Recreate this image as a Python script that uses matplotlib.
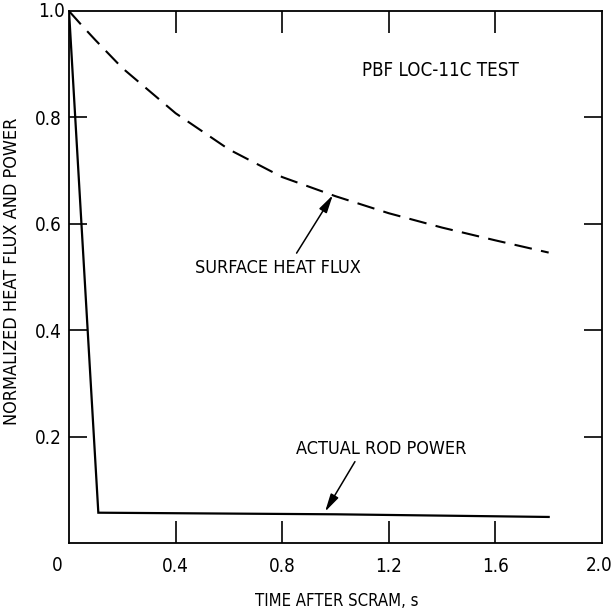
import matplotlib
matplotlib.use("Agg")
import matplotlib.pyplot as plt

plt.rcParams['font.family'] = ['DejaVu Sans']
plt.rcParams['font.stretch'] = 'condensed'

# Data
rod_time = [0.0, 0.11, 1.0, 1.80]
rod_power = [1.0, 0.057, 0.054, 0.049]

flux_time = [0.0, 0.05, 0.1, 0.2, 0.4, 0.6, 0.8, 1.0, 1.2, 1.4, 1.6, 1.8]
flux_value = [1.0, 0.972, 0.945, 0.893, 0.808, 0.740, 0.688, 0.652, 0.620, 0.593, 0.569, 0.546]

x_ticks = [0.4, 0.8, 1.2, 1.6]
x_labels = ['0.4', '0.8', '1.2', '1.6']
y_ticks = [0.2, 0.4, 0.6, 0.8]
y_labels = ['0.2', '0.4', '0.6', '0.8']

fig = plt.figure(figsize=(6.14, 6.10), dpi=100)
ax = fig.add_axes([0.1124, 0.1098, 0.868, 0.872])

ax.plot(rod_time, rod_power, color='black', lw=1.6, solid_joinstyle='miter')
ax.plot(flux_time, flux_value, color='black', lw=1.5, dashes=(8.5, 4.5))

ax.set_xlim(0, 2.0)
ax.set_ylim(0, 1.0)
ax.set_xticks(x_ticks)
ax.set_xticklabels(x_labels)
ax.set_yticks(y_ticks)
ax.set_yticklabels(y_labels)
ax.tick_params(direction='in', width=1.2, top=True, right=True, labelsize=13.5)
ax.tick_params(axis='x', length=16, pad=10)
ax.tick_params(axis='y', length=13, pad=5)
for s in ax.spines.values():
    s.set_linewidth(1.3)

# corner labels
ax.text(-0.045, -0.043, '0', ha='center', va='center', fontsize=13.5, clip_on=False)
ax.text(1.99, -0.043, '2.0', ha='center', va='center', fontsize=13.5, clip_on=False)
ax.text(-0.064, 1.0, '1.0', ha='center', va='center', fontsize=13.5, clip_on=False)

ax.set_xlabel('TIME AFTER SCRAM, s', fontsize=12)
ax.xaxis.set_label_coords(0.503, -0.092)
ax.set_ylabel('NORMALIZED HEAT FLUX AND POWER', fontsize=13)
ax.yaxis.set_label_coords(-0.09, 0.511)

ax.text(1.392, 0.889, 'PBF LOC-11C TEST', ha='center', va='center', fontsize=13.4)
ax.text(0.785, 0.517, 'SURFACE HEAT FLUX', ha='center', va='center', fontsize=13)
ax.text(1.17, 0.176, 'ACTUAL ROD POWER', ha='center', va='center', fontsize=13)

arrow = dict(arrowstyle='-|>,head_length=0.9,head_width=0.22', color='black', lw=1.1,
             shrinkA=0, shrinkB=0, mutation_scale=12)
ax.annotate('', xy=(0.99, 0.654), xytext=(0.854, 0.545), arrowprops=arrow)
ax.annotate('', xy=(0.961, 0.059), xytext=(1.073, 0.153), arrowprops=arrow)

fig.savefig('out.png', dpi=100)
